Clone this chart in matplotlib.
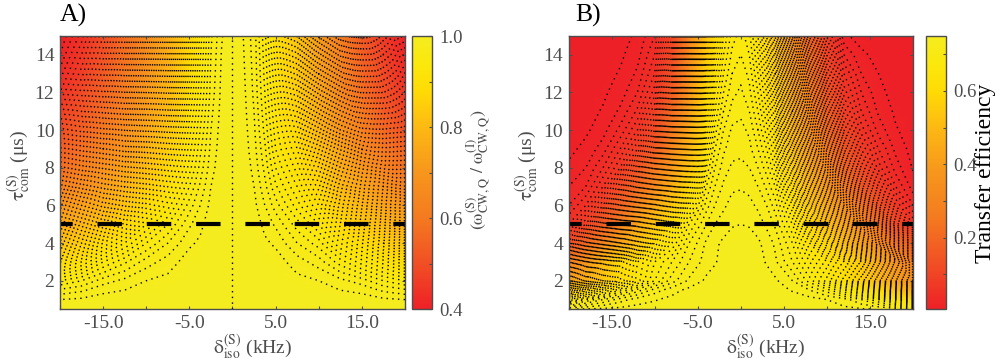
import matplotlib
matplotlib.use('Agg')
import matplotlib.pyplot as plt
import numpy as np
from matplotlib.colors import LinearSegmentedColormap

plt.rcParams['font.family'] = ['Liberation Serif', 'DejaVu Serif']
plt.rcParams['mathtext.fontset'] = 'stix'
plt.rcParams['mathtext.default'] = 'rm'
plt.rcParams['lines.scale_dashes'] = False

# tau axis shared by panel A
a_tau = [0.5, 1, 1.5, 2, 3, 4, 5, 6, 7, 8, 9, 10, 11, 12, 13, 14, 15]
a_delta = [-20, -17.5, -15, -12.5, -10, -7.5, -5, -3.75, -2.5, -1.25, 0,
           1.25, 2.5, 3.75, 5, 7.5, 10, 12.5, 15, 17.5, 20]

# panel A, one list per delta column
a_columns = [
    [.997, .990, .972, .95, .89, .82, .75, .69, .62, .57, .53, .495, .465, .44, .425, .41, .40],
    [.998, .992, .978, .96, .91, .85, .79, .73, .67, .62, .58, .54, .51, .485, .465, .45, .435],
    [.999, .995, .987, .975, .94, .89, .83, .77, .72, .68, .64, .60, .57, .545, .525, .505, .49],
    [.999, .996, .99, .983, .958, .92, .875, .825, .78, .74, .70, .67, .64, .62, .60, .58, .565],
    [1, .998, .995, .99, .975, .95, .92, .885, .845, .81, .78, .75, .73, .71, .69, .675, .66],
    [1, .999, .997, .993, .985, .97, .95, .925, .90, .875, .85, .83, .81, .795, .78, .77, .76],
    [1, 1, .999, .998, .995, .988, .978, .965, .95, .935, .925, .915, .905, .895, .885, .878, .87],
    [1, 1, 1, .999, .997, .992, .987, .98, .972, .964, .957, .95, .944, .938, .933, .928, .923],
    [1, 1, 1, 1, .999, .998, .996, .993, .99, .986, .983, .98, .977, .974, .972, .97, .968],
    [1, 1, 1, 1, 1, 1, .999, .999, .998, .997, .996, .995, .994, .993, .992, .991, .989],
    [1, 1, 1, 1, 1, 1, 1, 1, 1, 1, 1, 1, 1, 1, 1, 1, 1],
    [1, 1, 1, 1, 1, 1, .999, .999, .998, .997, .996, .995, .994, .993, .992, .991, .99],
    [1, 1, 1, 1, .999, .998, .996, .993, .99, .987, .984, .982, .98, .978, .977, .976, .975],
    [1, 1, 1, .999, .997, .992, .987, .98, .973, .967, .962, .957, .953, .95, .947, .945, .943],
    [1, 1, .999, .998, .995, .988, .978, .965, .952, .94, .93, .925, .92, .915, .91, .905, .90],
    [1, .999, .997, .993, .985, .97, .955, .935, .92, .905, .89, .875, .86, .85, .84, .835, .83],
    [1, .998, .995, .99, .975, .955, .93, .90, .875, .85, .82, .79, .77, .755, .74, .73, .72],
    [.999, .996, .99, .983, .955, .92, .885, .84, .80, .77, .74, .70, .68, .66, .645, .63, .62],
    [.999, .995, .987, .975, .935, .89, .84, .79, .74, .70, .66, .625, .60, .575, .555, .54, .525],
    [.998, .992, .978, .96, .915, .86, .80, .74, .69, .64, .60, .56, .53, .505, .485, .47, .455],
    [.997, .990, .972, .95, .89, .82, .75, .69, .63, .585, .545, .505, .475, .45, .43, .415, .40],
]

b_tau = [0.5, 1, 1.5, 2, 3, 4, 5, 6, 7, 8, 9, 10, 11, 12, 13, 14, 15]
b_delta = [-20, -18, -16, -14, -12, -10, -8, -6, -4, -3, -2, -1, 0,
           1, 2, 3, 4, 6, 8, 10, 12, 14, 16, 18, 20]

# panel B, one list per tau row
b_rows = [
    [.739, .741, .742, .743, .744, .745, .746, .747, .747, .748, .748, .749, .749, .749, .748, .748, .747, .746, .745, .744, .742, .741, .739, .735, .73],
    [.66, .69, .71, .725, .735, .739, .743, .746, .748, .749, .749, .75, .75, .75, .749, .749, .748, .746, .744, .74, .735, .72, .70, .66, .60],
    [.55, .60, .645, .68, .705, .725, .736, .743, .747, .748, .749, .75, .75, .75, .749, .748, .745, .739, .73, .715, .69, .655, .60, .53, .46],
    [.42, .48, .55, .61, .655, .69, .715, .732, .742, .745, .747, .749, .75, .749, .747, .745, .742, .73, .705, .675, .63, .575, .50, .42, .35],
    [.28, .38, .50, .60, .65, .68, .70, .72, .735, .739, .744, .747, .748, .747, .744, .739, .732, .71, .68, .65, .61, .55, .46, .37, .28],
    [.12, .20, .31, .43, .53, .62, .67, .71, .732, .738, .742, .745, .745, .745, .742, .736, .728, .70, .65, .59, .51, .42, .33, .24, .16],
    [.05, .09, .17, .29, .43, .54, .63, .69, .72, .73, .735, .739, .74, .739, .735, .728, .718, .68, .60, .52, .43, .33, .23, .12, .06],
    [.03, .05, .10, .19, .31, .44, .55, .65, .705, .72, .728, .734, .735, .733, .728, .72, .705, .65, .55, .45, .35, .24, .14, .07, .03],
    [.02, .03, .06, .12, .21, .33, .47, .60, .69, .71, .722, .728, .729, .727, .72, .708, .69, .61, .50, .39, .27, .16, .09, .04, .015],
    [.012, .02, .04, .07, .14, .25, .39, .54, .67, .70, .715, .722, .723, .72, .71, .695, .67, .57, .45, .33, .20, .11, .055, .025, .009],
    [.007, .013, .025, .05, .09, .17, .32, .49, .65, .69, .708, .716, .717, .713, .70, .68, .65, .53, .40, .27, .15, .08, .04, .017, .006],
    [.005, .008, .016, .033, .06, .12, .26, .45, .63, .675, .70, .712, .713, .708, .69, .665, .63, .50, .36, .22, .11, .055, .026, .011, .005],
    [.005, .006, .011, .022, .042, .09, .21, .41, .61, .66, .69, .704, .708, .70, .68, .65, .61, .47, .32, .18, .085, .04, .018, .008, .005],
    [.005, .005, .008, .015, .03, .065, .17, .38, .59, .65, .68, .697, .702, .693, .67, .64, .59, .44, .28, .15, .065, .03, .013, .006, .005],
    [.005, .005, .006, .011, .022, .05, .14, .35, .57, .635, .67, .69, .697, .687, .66, .625, .57, .41, .25, .12, .05, .02, .01, .005, .005],
    [.005, .005, .005, .008, .016, .04, .12, .33, .55, .62, .66, .683, .69, .68, .65, .61, .55, .38, .22, .10, .03, .012, .007, .005, .005],
    [.005, .005, .005, .006, .012, .03, .10, .30, .53, .60, .65, .675, .685, .673, .64, .59, .53, .35, .19, .08, .012, .006, .005, .005, .005],
]

a_levels = np.arange(0.41, 0.995, 0.01)
b_levels = np.arange(0.01, 0.745, 0.01)

x_ticks = [-20, -15, -10, -5, 0, 5, 10, 15, 20]
x_labels = ['', '-15.0', '', '-5.0', '', '5.0', '', '15.0', '']
y_ticks = [2, 4, 6, 8, 10, 12, 14]
a_bar_ticks = [0.4, 0.5, 0.6, 0.7, 0.8, 0.9, 1.0]
a_bar_labels = ['0.4', '', '0.6', '', '0.8', '', '1.0']
b_bar_ticks = [0.1, 0.2, 0.3, 0.4, 0.5, 0.6, 0.7]
b_bar_labels = ['', '0.2', '', '0.4', '', '0.6', '']

cmap = LinearSegmentedColormap.from_list('redyellow', [
    (0.0, '#ee2027'), (0.167, '#f15025'), (0.333, '#f47a20'), (0.5, '#f7961d'),
    (0.667, '#fdb913'), (0.8, '#ffdb05'), (0.9, '#fbe80c'), (1.0, '#f5ec20')])

W, H = 1000, 363
fig = plt.figure(figsize=(W / 100, H / 100), dpi=100)
grey = '#4d4d4d'
dot_style = (0, (1.0, 3.1))
dash_style = (8.5, (17.6, 17.9))


def box(left, top, right, bottom):
    return [left / W, 1 - bottom / H, (right - left) / W, (bottom - top) / H]


def panel(ax_box, bar_box, xs, ys, zs, levels, vmin, vmax, bar_ticks, bar_labels):
    ax = fig.add_axes(box(*ax_box))
    cax = fig.add_axes(box(*bar_box))
    mesh = ax.pcolormesh(xs, ys, zs, shading='gouraud', cmap=cmap, vmin=vmin, vmax=vmax)
    ax.contour(xs, ys, zs, levels=levels, colors='black', linewidths=1.0,
               linestyles=[dot_style] * len(levels))
    ax.plot([-20, 20], [5, 5], color='black', lw=3.0, linestyle=dash_style,
            dash_capstyle='butt')
    ax.set_xlim(-20, 20)
    ax.set_ylim(0.5, 15)
    ax.set_xticks(x_ticks)
    ax.set_xticklabels(x_labels)
    ax.set_yticks(y_ticks)
    ax.tick_params(direction='in', top=True, right=True, length=2.5, width=0.8,
                   color=grey, labelcolor=grey, labelsize=14, pad=4)
    for s in ax.spines.values():
        s.set_color(grey)
        s.set_linewidth(1.0)
    cb = fig.colorbar(mesh, cax=cax)
    cb.set_ticks(bar_ticks)
    cb.set_ticklabels(bar_labels)
    cb.ax.tick_params(direction='in', length=2.5, width=0.8, color=grey,
                      labelcolor=grey, labelsize=13.5, pad=5)
    cb.outline.set_edgecolor(grey)
    cb.outline.set_linewidth(1.0)
    return ax


ax_a = panel((60, 36, 405, 309), (412, 36, 432, 309), a_delta, a_tau, np.array(a_columns).T,
             a_levels, 0.4, 1.0, a_bar_ticks, a_bar_labels)
ax_a.axvline(0, color='black', lw=1.0, linestyle=dot_style)
panel((568.5, 36, 913, 309), (926, 36, 946, 309), b_delta, b_tau, np.array(b_rows),
      b_levels, 0.005, 0.75, b_bar_ticks, b_bar_labels)

fig.text(60 / W, 1 - 22 / H, 'A)', fontsize=18.5, color='black')
fig.text(575 / W, 1 - 22 / H, 'B)', fontsize=18.5, color='black')

tau_label = r'$\tau_{com}^{(S)}$ (μs)'
delta_label = r'$\delta_{iso}^{(S)}$ (kHz)'
fig.text(19 / W, 1 - 165 / H, tau_label, rotation=90, ha='center', va='center',
         fontsize=14, color=grey)
fig.text(527 / W, 1 - 165 / H, tau_label, rotation=90, ha='center', va='center',
         fontsize=14, color=grey)
fig.text(253 / W, 1 - 347 / H, delta_label, ha='center', va='center', fontsize=14, color=grey)
fig.text(766 / W, 1 - 347 / H, delta_label, ha='center', va='center', fontsize=14, color=grey)
fig.text(479 / W, 1 - 170 / H,
         r'$(\omega_{CW,Q}^{(S)}\ /\ \omega_{CW,Q}^{(I)})$',
         rotation=90, ha='center', va='center', fontsize=13, color=grey)
fig.text(986 / W, 1 - 173 / H, 'Transfer efficiency', rotation=90, ha='center', va='center',
         fontsize=17, color='black')

fig.savefig('out.png', dpi=100)
